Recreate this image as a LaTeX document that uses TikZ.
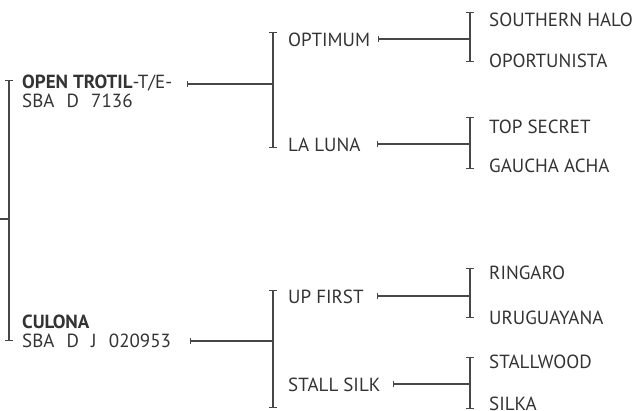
\documentclass[tikz,border=0pt]{standalone}
\usepackage{fontspec}
\setmainfont{PT Sans}
\usetikzlibrary{arrows.meta}
\definecolor{ink}{HTML}{333333}
\definecolor{rulegray}{HTML}{474747}

\begin{document}
\begin{tikzpicture}[x=1pt,y=-1pt,
  every node/.style={inner sep=0pt,anchor=west,text=ink,font=\fontsize{19}{19}\selectfont},
  fork/.style={draw=rulegray,line width=1.2pt,{Bar[width=8pt,line width=1.1pt]}-{Bar[width=8pt,line width=1.1pt]}},
  link/.style={draw=rulegray,line width=1.1pt,{Bar[width=6pt,line width=1pt]}-}]
\useasboundingbox (0,0) rectangle (635,410);
\def\xa{9}
\def\xb{273}
\def\xc{470}
\def\gap{\hspace{0.64em}}
% fork coordinates
\coordinate (rootIn) at (0,219);
\coordinate (rootMid) at (\xa,219);
\coordinate (rootTop) at (\xa,80);
\coordinate (rootBot) at (\xa,341);
\coordinate (sireOut) at (187,84);
\coordinate (sireMid) at (\xb,84);
\coordinate (sireTop) at (\xb,32);
\coordinate (sireBot) at (\xb,148);
\coordinate (damOut) at (190,341);
\coordinate (damMid) at (\xb,341);
\coordinate (damTop) at (\xb,290);
\coordinate (damBot) at (\xb,408);
\coordinate (optOut) at (378,39);
\coordinate (optMid) at (\xc,39);
\coordinate (optTop) at (\xc,12);
\coordinate (optBot) at (\xc,62);
\coordinate (lunOut) at (377,144);
\coordinate (lunMid) at (\xc,144);
\coordinate (lunTop) at (\xc,117);
\coordinate (lunBot) at (\xc,169);
\coordinate (upfOut) at (377,296);
\coordinate (upfMid) at (\xc,296);
\coordinate (upfTop) at (\xc,268);
\coordinate (upfBot) at (\xc,318);
\coordinate (stlOut) at (393,384);
\coordinate (stlMid) at (\xc,384);
\coordinate (stlTop) at (\xc,357);
\coordinate (stlBot) at (\xc,409);

\draw[draw=rulegray,line width=1.1pt] (rootIn) -- (rootMid);
\draw[fork] (rootTop) -- (rootBot);
\draw[link] (sireOut) -- (sireMid);
\draw[fork] (sireTop) -- (sireBot);
\draw[link] (damOut) -- (damMid);
\draw[fork] (damTop) -- (damBot);
\draw[link] (optOut) -- (optMid);
\draw[fork] (optTop) -- (optBot);
\draw[link] (lunOut) -- (lunMid);
\draw[fork] (lunTop) -- (lunBot);
\draw[link] (upfOut) -- (upfMid);
\draw[fork] (upfTop) -- (upfBot);
\draw[link] (stlOut) -- (stlMid);
\draw[fork] (stlTop) -- (stlBot);

% parents
\node[align=left] (sire) at (22,91.5) {\textbf{OPEN TROTIL}-T/E-\\SBA\gap D\gap 7136};
\node[align=left] (dam) at (22,331) {\textbf{CULONA}\\SBA\gap D\gap J\gap 020953};
% grandparents
\node (optimum) at (288,40) {OPTIMUM};
\node (laluna) at (288,145) {LA LUNA};
\node (upfirst) at (288,297) {UP FIRST};
\node (stallsilk) at (288,385) {STALL SILK};
% great-grandparents
\node (southern) at (489,20) {SOUTHERN HALO};
\node (oportun) at (489,61) {OPORTUNISTA};
\node (topsecret) at (489,127) {TOP SECRET};
\node (gaucha) at (489,166) {GAUCHA ACHA};
\node (ringaro) at (489,273) {RINGARO};
\node (uruguay) at (489,318) {URUGUAYANA};
\node (stallwood) at (489,362) {STALLWOOD};
\node (silka) at (489,404) {SILKA};
\end{tikzpicture}
\end{document}
